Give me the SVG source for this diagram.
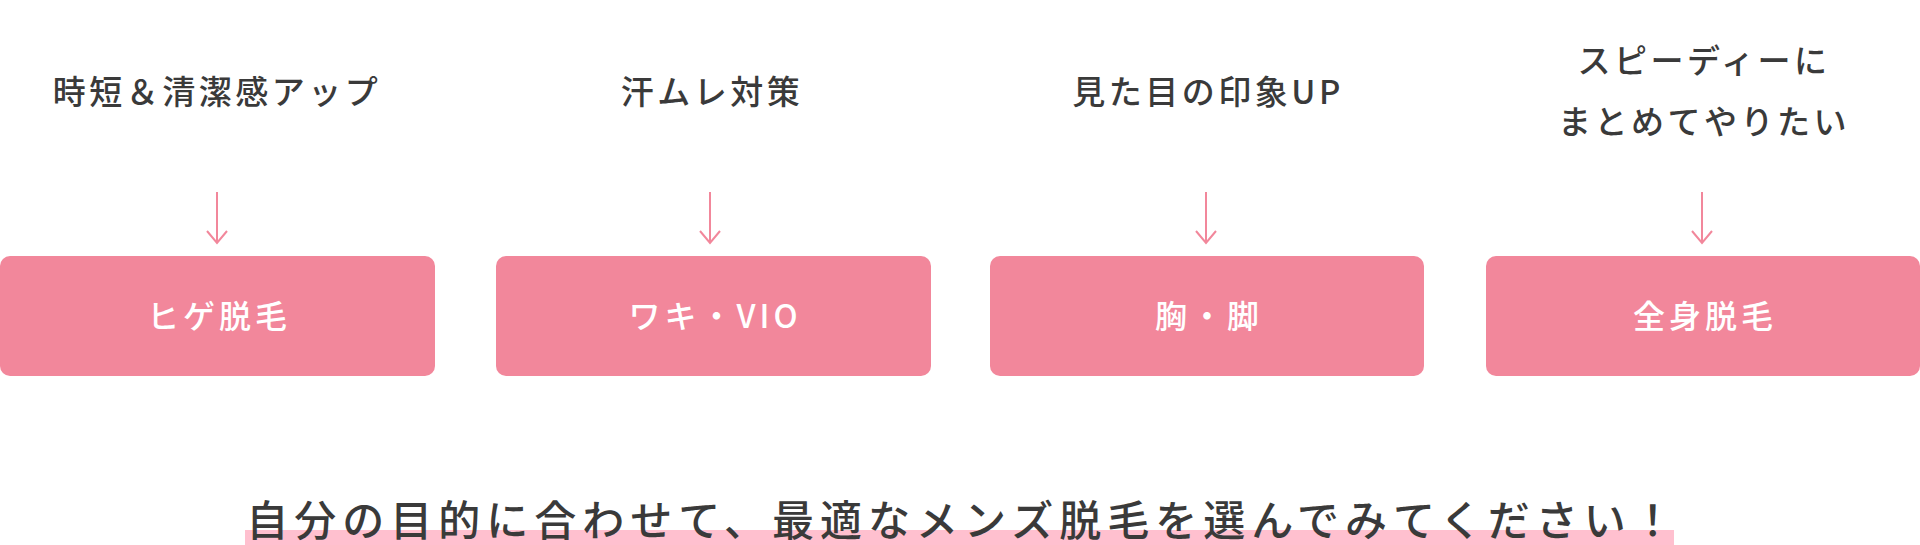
<svg xmlns="http://www.w3.org/2000/svg" width="1920" height="545" viewBox="0 0 1920 545">
<style>
.lbl{font-family:"Noto Sans CJK JP","Noto Sans",sans-serif;font-size:33px;font-weight:500;fill:#3a3a3a;text-anchor:middle;letter-spacing:3.5px}
.box{fill:#F2879B}
.bt{font-family:"Noto Sans CJK JP","Noto Sans",sans-serif;font-size:32px;fill:#fff;text-anchor:middle;font-weight:500;letter-spacing:4px}
.arr{stroke:#F2879B;stroke-width:2;fill:none}
.bottom{font-family:"Noto Sans CJK JP","Noto Sans",sans-serif;font-size:42px;font-weight:500;fill:#3a3a3a;text-anchor:middle;letter-spacing:6px}
</style>
<rect width="1920" height="545" fill="#fff"/>
<g id="connectors">
<path class="arr" d="M217 192V243M207 231L217 243L227 231"/>
<path class="arr" d="M710 192V243M700 231L710 243L720 231"/>
<path class="arr" d="M1206 192V243M1196 231L1206 243L1216 231"/>
<path class="arr" d="M1702 192V243M1692 231L1702 243L1712 231"/>
</g>
<g id="n1"><text class="lbl" x="217" y="104">時短＆清潔感アップ</text><rect class="box" x="0" y="256" width="435" height="120" rx="10"/><text class="bt" x="219" y="328">ヒゲ脱毛</text></g>
<g id="n2"><text class="lbl" x="712" y="104">汗ムレ対策</text><rect class="box" x="496" y="256" width="435" height="120" rx="10"/><text class="bt" x="715" y="328">ワキ・VIO</text></g>
<g id="n3"><text class="lbl" x="1208" y="104">見た目の印象UP</text><rect class="box" x="990" y="256" width="434" height="120" rx="10"/><text class="bt" x="1209" y="328">胸・脚</text></g>
<g id="n4"><text class="lbl" x="1704" y="73">スピーディーに</text><text class="lbl" x="1704" y="134">まとめてやりたい</text><rect class="box" x="1486" y="256" width="434" height="120" rx="10"/><text class="bt" x="1705" y="328">全身脱毛</text></g>
<g id="bottom"><rect x="245" y="530" width="1429" height="15" fill="#FFC0CF"/><text class="bottom" x="963" y="536">自分の目的に合わせて、最適なメンズ脱毛を選んでみてください！</text></g>
</svg>
